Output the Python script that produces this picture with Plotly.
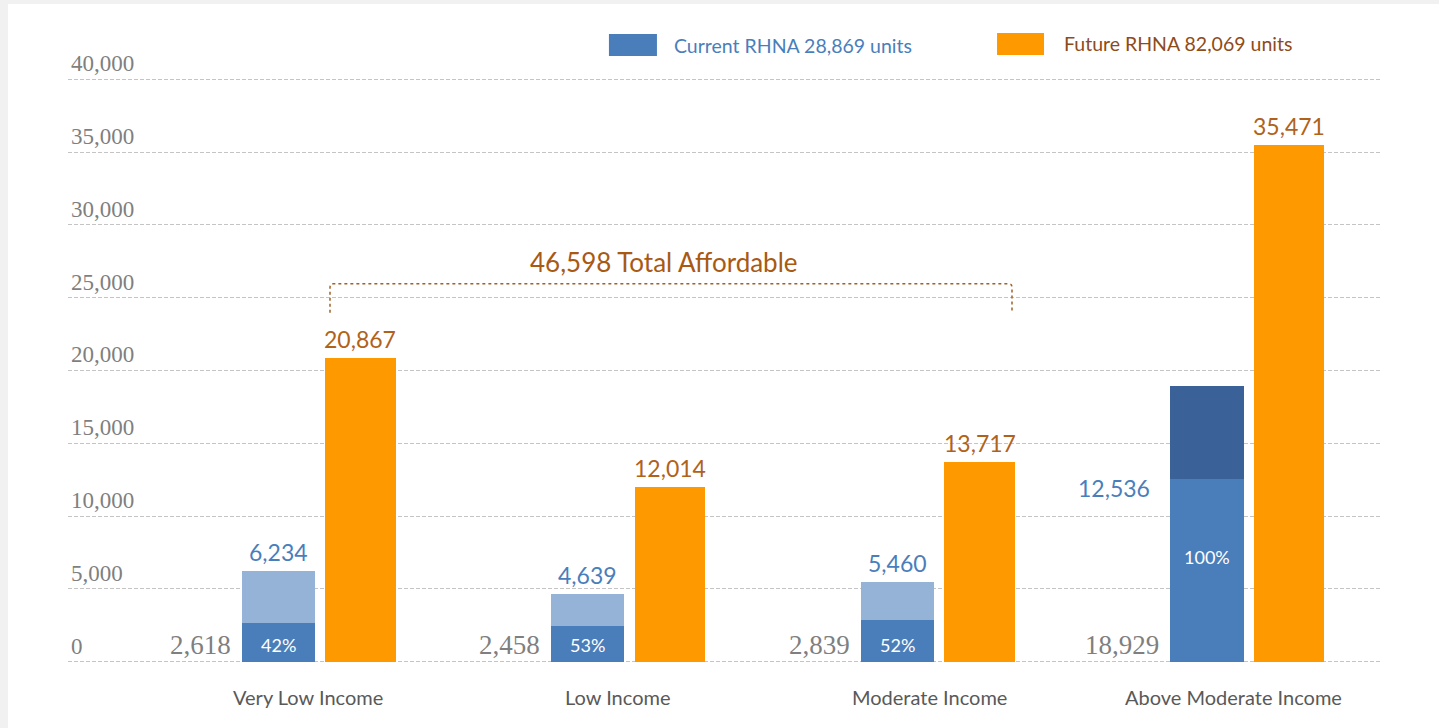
import plotly.graph_objects as go

# ---- data ----
categories = ["Very Low Income", "Low Income", "Moderate Income", "Above Moderate Income"]
current_total = [6234, 4639, 5460, 18929]      # full height of current RHNA bar
current_lower = [2618, 2458, 2839, 12536]      # lower segment of current RHNA bar
future_rhna = [20867, 12014, 13717, 35471]
pct_labels = ["42%", "53%", "52%", "100%"]
grey_labels = ["2,618", "2,458", "2,839", "18,929"]
blue_labels = ["6,234", "4,639", "5,460", "12,536"]
legend_current = "Current RHNA 28,869 units"
legend_future = "Future RHNA 82,069 units"
total_affordable = "46,598 Total Affordable"
y_ticks = [0, 5000, 10000, 15000, 20000, 25000, 30000, 35000, 40000]

# ---- styles ----
C_DARK = "#4a7ebb"
C_LIGHT = "#95b3d7"
C_DARKER = "#3b6298"
C_ORANGE = "#ff9900"
C_ORANGE_TXT = "#b0621a"
C_BROWN = "#8e4b1a"
C_GREY = "#7f7f7f"
SANS = "Lato"
SERIF = "Liberation Serif"

x = list(range(len(categories)))
B_W, B_OFF = 0.236, -0.249
O_W, O_OFF = 0.229, 0.0195
upper_colors = [C_LIGHT, C_LIGHT, C_LIGHT, C_DARKER]

fig = go.Figure()
fig.add_bar(x=x, y=current_total, width=B_W, offset=B_OFF,
            marker=dict(color=upper_colors, line=dict(width=0)), name="upper", showlegend=False)
fig.add_bar(x=x, y=current_lower, width=B_W, offset=B_OFF,
            marker=dict(color=C_DARK, line=dict(width=0)), name="lower", showlegend=False)
fig.add_bar(x=x, y=future_rhna, width=O_W, offset=O_OFF,
            marker=dict(color=C_ORANGE, line=dict(width=0)), name=legend_future, showlegend=False)

ann = []
bcenter = B_OFF + B_W / 2
ocenter = O_OFF + O_W / 2
cat_shift = [-11, -11, -9, -14]
for i in x:
    # orange values
    ann.append(dict(x=i + ocenter, y=future_rhna[i], text=f"{future_rhna[i]:,}", showarrow=False,
                    yanchor="bottom", yshift=3, font=dict(family=SANS, size=23, color=C_ORANGE_TXT)))
    # grey labels at the left bottom
    ann.append(dict(x=i + B_OFF, y=0, text=grey_labels[i], showarrow=False, xanchor="right",
                    yanchor="bottom", xshift=-9, yshift=0,
                    font=dict(family=SERIF, size=27, color=C_GREY)))
    # category labels
    ann.append(dict(x=i, y=0, text=categories[i], showarrow=False, yanchor="top", yshift=-21,
                    xshift=cat_shift[i], font=dict(family=SANS, size=20, color="#595959")))
    if i < 3:
        ann.append(dict(x=i + bcenter, y=current_total[i], text=blue_labels[i], showarrow=False,
                        yanchor="bottom", yshift=3, font=dict(family=SANS, size=23, color=C_DARK)))
        ann.append(dict(x=i + bcenter, y=0, text=pct_labels[i], showarrow=False,
                        yanchor="bottom", yshift=4, font=dict(family=SANS, size=18, color="white")))
    else:
        ann.append(dict(x=i + B_OFF, y=current_lower[i], text=blue_labels[i], showarrow=False,
                        xanchor="right", yanchor="middle", xshift=-18, yshift=-9,
                        font=dict(family=SANS, size=23, color=C_DARK)))
        ann.append(dict(x=i + bcenter, y=current_lower[i] / 2, text=pct_labels[i], showarrow=False,
                        yanchor="middle", yshift=13, font=dict(family=SANS, size=18, color="white")))

# total affordable bracket label
ann.append(dict(x=1.115, y=27470, text=total_affordable, showarrow=False, yanchor="middle",
                font=dict(family=SANS, size=26, color="#a85a14")))

# legend (custom)
ann.append(dict(xref="paper", yref="paper", x=0.4604, y=1.0564, text=legend_current, showarrow=False,
                xanchor="left", yanchor="middle", font=dict(family=SANS, size=19.5, color=C_DARK)))
ann.append(dict(xref="paper", yref="paper", x=0.7576, y=1.0598, text=legend_future, showarrow=False,
                xanchor="left", yanchor="middle", font=dict(family=SANS, size=19.5, color=C_BROWN)))

shapes = [
    # page background: grey band top/left, white elsewhere
    dict(type="rect", xref="paper", yref="paper", x0=-0.0457, x1=1.06, y0=-0.2, y1=1.1265,
         fillcolor="white", line=dict(width=0), layer="below"),
    # legend swatches
    dict(type="rect", xref="paper", yref="paper", x0=0.4123, x1=0.4489, y0=1.0376, y1=1.0752,
         fillcolor=C_DARK, line=dict(width=0)),
    dict(type="rect", xref="paper", yref="paper", x0=0.7081, x1=0.7439, y0=1.0393, y1=1.0769,
         fillcolor=C_ORANGE, line=dict(width=0)),
    # bracket
    dict(type="path", xref="x", yref="y",
         path="M 0.0355,23960 L 0.0355,25700 Q 0.0355,25955 0.045,25955 L 2.229,25955 Q 2.239,25955 2.239,25700 L 2.239,23960",
         line=dict(color="#a0622a", width=1.5, dash="dot")),
]

fig.update_layout(
    width=1439, height=728,
    margin=dict(l=68, r=59, t=78, b=65),
    paper_bgcolor="#f1f1f1", plot_bgcolor="rgba(0,0,0,0)",
    barmode="overlay", bargap=0,
    showlegend=False,
    annotations=ann, shapes=shapes,
    xaxis=dict(range=[-0.811, 3.428], showticklabels=False, showgrid=False, zeroline=False,
               showline=False, fixedrange=True),
    yaxis=dict(range=[-100, 40100], tickvals=y_ticks, ticktext=[f"{v:,}" for v in y_ticks],
               ticklabelposition="inside top", ticklabeloverflow="allow",
               tickfont=dict(family=SERIF, size=23, color=C_GREY),
               showgrid=True, gridcolor="#c4c4c4", gridwidth=1, griddash="4px,2px",
               zeroline=False, showline=False, ticks=""),
)

fig.write_html("out.html", config={"displayModeBar": False},
               post_script="document.body.style.margin='0';")
